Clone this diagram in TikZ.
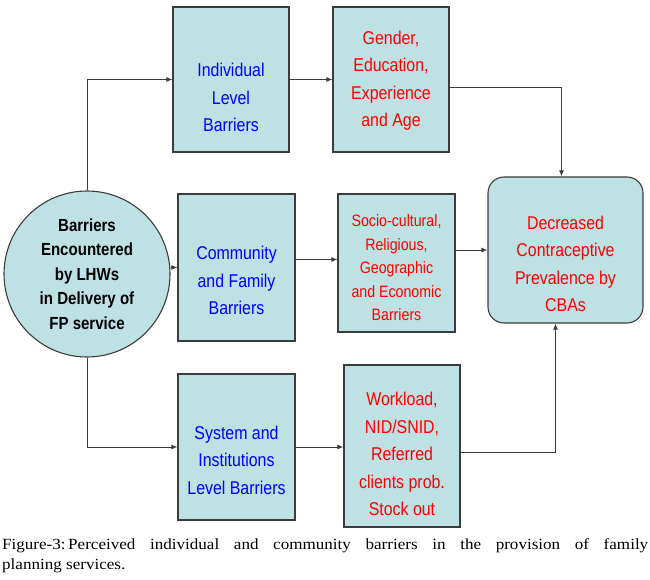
\documentclass[tikz,border=0pt]{standalone}
\usepackage{fontspec}
\setmainfont{Liberation Serif}
\newfontfamily\boxfont{Liberation Sans}[FakeStretch=0.86]
\newfontfamily\capfont{Liberation Serif}[FakeStretch=1.1]
\usetikzlibrary{arrows.meta}
\definecolor{boxblue}{RGB}{190,225,228}
\definecolor{linegray}{RGB}{60,60,60}
\tikzset{>={Latex[length=6pt,width=5pt]}}

\begin{document}
\begin{tikzpicture}[x=1pt,y=-1pt]
    \tikzset{
        box/.style={draw=linegray,line width=1.1pt,fill=boxblue,inner sep=0pt},
        txt/.style={align=center,inner sep=0pt,font=\boxfont\fontsize{18.5}{27.5}\selectfont},
        link/.style={->,draw=linegray,line width=1pt}
      }
    \useasboundingbox (0,0) rectangle (650,580);
    % left circle
    \node[box,circle,minimum size=166pt,align=center,
      font=\boxfont\bfseries\fontsize{17.5}{24.5}\selectfont] (barriers) at (87,274)
      {Barriers\\Encountered\\by LHWs\\in Delivery of\\FP service};
    % first column
    \node[box,minimum width=116pt,minimum height=145pt] (indiv) at (231,79.5) {};
    \node[txt,text=blue] (indivtxt) at ([yshift=-18pt]indiv.center) {Individual\\Level\\Barriers};
    \node[box,minimum width=117pt,minimum height=147pt] (comm) at (236.5,267.5) {};
    \node[txt,text=blue] (commtxt) at ([yshift=-13pt]comm.center) {Community\\and Family\\Barriers};
    \node[box,minimum width=117pt,minimum height=146pt] (system) at (236.5,447) {};
    \node[txt,text=blue] (systemtxt) at ([yshift=-13pt]system.center) {System and\\Institutions\\Level Barriers};
    % second column
    \node[box,minimum width=116pt,minimum height=145pt] (gender) at (391,79.5) {};
    \node[txt,text=red] (gendertxt) at ([yshift=-1pt]gender.center) {Gender,\\Education,\\Experience\\and Age};
    \node[box,minimum width=117pt,minimum height=138pt] (socio) at (396.5,263) {};
    \node[txt,text=red,font=\boxfont\fontsize{16.5}{23.5}\selectfont] (sociotxt) at ([yshift=-5pt]socio.center)
      {Socio-cultural,\\Religious,\\Geographic\\and Economic\\Barriers};
    \node[box,minimum width=116pt,minimum height=162pt] (work) at (402,446) {};
    \node[txt,text=red] (worktxt) at ([yshift=-8pt]work.center) {Workload,\\NID/SNID,\\Referred\\clients prob.\\Stock out};
    % outcome
    \node[box,rounded corners=16pt,minimum width=155pt,minimum height=146pt] (decr) at (565.5,250) {};
    \node[txt,text=red] (decrtxt) at ([yshift=-14pt]decr.center) {Decreased\\Contraceptive\\Prevalence by\\CBAs};
    % connectors
    \draw[link] (barriers.north) |- (indiv.west);
    \draw[link] (barriers.east |- comm.west) -- (comm.west);
    \draw[link] (barriers.south) |- (system.west);
    \draw[link] (indiv.east) -- (gender.west);
    \draw[link] ([yshift=8pt]comm.east) -- ([yshift=8pt]comm.east -| socio.west);
    \draw[link] (socio.east |- decr.west) -- (decr.west);
    \draw[link] (system.east) -- (system.east -| work.west);
    \draw[link] ([yshift=-8pt]gender.east) -| ([xshift=-4pt]decr.north);
    \draw[link] ([yshift=-6pt]work.east) -| ([xshift=-10pt]decr.south);
    % caption
    \node[anchor=north west,text width=646pt,align=justify,inner sep=0pt,
      font=\capfont\frenchspacing\fontsize{15.5}{20}\selectfont] (caption) at (2,538)
      {Figure-3:\,Perceived individual and community barriers in the provision of family\linebreak
       planning services.};
  \end{tikzpicture}
\end{document}
